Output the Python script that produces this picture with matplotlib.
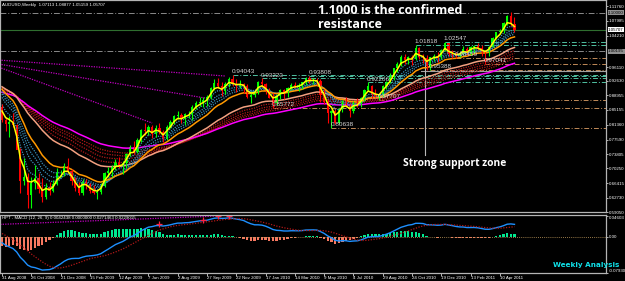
import numpy as np
import pandas as pd
import matplotlib
matplotlib.use('Agg')
import matplotlib.pyplot as plt
from matplotlib.transforms import blended_transform_factory

# weekly AUDUSD bars, first bar = week of Sunday 31 Aug 2008
OPENS = [0.859, 0.825, 0.815, 0.822, 0.812, 0.750, 0.670, 0.680, 0.635, 0.665,
         0.678, 0.650, 0.630, 0.655, 0.645, 0.663, 0.690, 0.690, 0.708, 0.695,
         0.670, 0.651, 0.640, 0.668, 0.660, 0.644, 0.640, 0.642, 0.658, 0.690,
         0.695, 0.708, 0.718, 0.710, 0.715, 0.740, 0.758, 0.745, 0.775, 0.800,
         0.799, 0.808, 0.789, 0.806, 0.795, 0.778, 0.808, 0.820, 0.835, 0.838,
         0.828, 0.840, 0.842, 0.859, 0.870, 0.872, 0.876, 0.884, 0.908, 0.920,
         0.912, 0.900, 0.919, 0.932, 0.918, 0.913, 0.918, 0.912, 0.886, 0.890,
         0.897, 0.922, 0.918, 0.900, 0.883, 0.870, 0.888, 0.902, 0.896, 0.907,
         0.916, 0.913, 0.913, 0.922, 0.934, 0.928, 0.928, 0.925, 0.889, 0.873,
         0.843, 0.850, 0.818, 0.853, 0.875, 0.863, 0.848, 0.870, 0.865, 0.883,
         0.903, 0.912, 0.893, 0.888, 0.888, 0.913, 0.924, 0.937, 0.958, 0.970,
         0.987, 0.980, 0.988, 0.982, 1.011, 0.987, 0.985, 0.963, 0.987, 0.990,
         0.988, 1.005, 1.023, 0.994, 0.993, 0.989, 0.996, 1.008, 0.997, 1.014,
         1.015, 1.009, 1.000, 0.997, 1.013, 1.036, 1.050, 1.054, 1.073, 1.091,
         1.0711]
HIGHS = [0.868, 0.833, 0.835, 0.845, 0.816, 0.753, 0.728, 0.690, 0.680, 0.710,
         0.690, 0.678, 0.665, 0.666, 0.672, 0.703, 0.698, 0.715, 0.728, 0.700,
         0.680, 0.668, 0.675, 0.676, 0.665, 0.660, 0.648, 0.665, 0.694, 0.705,
         0.712, 0.727, 0.730, 0.720, 0.742, 0.763, 0.772, 0.780, 0.804, 0.818,
         0.814, 0.813, 0.812, 0.818, 0.800, 0.812, 0.827, 0.838, 0.849, 0.843,
         0.845, 0.850, 0.864, 0.875, 0.885, 0.885, 0.890, 0.910, 0.930, 0.933,
         0.923, 0.924, 0.936, 0.9404, 0.930, 0.929, 0.921, 0.918, 0.895, 0.900,
         0.925, 0.9322, 0.920, 0.907, 0.895, 0.893, 0.906, 0.906, 0.910, 0.920,
         0.922, 0.921, 0.924, 0.935, 0.9381, 0.934, 0.933, 0.932, 0.905, 0.879,
         0.852, 0.855, 0.856, 0.878, 0.885, 0.866, 0.875, 0.882, 0.885, 0.904,
         0.9221, 0.915, 0.904, 0.893, 0.915, 0.925, 0.945, 0.960, 0.975, 0.991,
         0.995, 0.990, 0.993, 1.0182, 1.014, 0.996, 0.993, 0.988, 0.995, 1.000,
         1.007, 1.0255, 1.024, 1.005, 1.000, 1.000, 1.015, 1.014, 1.015, 1.019,
         1.024, 1.017, 1.005, 1.015, 1.038, 1.052, 1.059, 1.077, 1.094, 1.1012,
         1.0888]
LOWS = [0.821, 0.797, 0.782, 0.808, 0.752, 0.640, 0.660, 0.602, 0.600, 0.650,
        0.640, 0.617, 0.625, 0.633, 0.641, 0.660, 0.680, 0.683, 0.690, 0.659,
        0.645, 0.634, 0.634, 0.650, 0.640, 0.636, 0.625, 0.636, 0.655, 0.680,
        0.681, 0.697, 0.702, 0.689, 0.703, 0.735, 0.738, 0.742, 0.770, 0.787,
        0.787, 0.780, 0.782, 0.790, 0.770, 0.775, 0.805, 0.815, 0.829, 0.818,
        0.813, 0.832, 0.827, 0.855, 0.862, 0.860, 0.862, 0.880, 0.902, 0.907,
        0.887, 0.893, 0.910, 0.913, 0.897, 0.908, 0.896, 0.883, 0.870, 0.885,
        0.892, 0.911, 0.893, 0.881, 0.8577, 0.864, 0.880, 0.880, 0.886, 0.902,
        0.907, 0.899, 0.905, 0.915, 0.920, 0.918, 0.915, 0.873, 0.867, 0.818,
        0.8064, 0.815, 0.816, 0.846, 0.860, 0.833, 0.843, 0.860, 0.858, 0.875,
        0.900, 0.882, 0.884, 0.8771, 0.885, 0.905, 0.920, 0.928, 0.950, 0.963,
        0.970, 0.968, 0.966, 0.980, 0.983, 0.972, 0.955, 0.9539, 0.978, 0.975,
        0.983, 1.003, 0.990, 0.985, 0.9846, 0.9875, 0.994, 0.991, 0.992, 0.998,
        1.005, 0.990, 0.9704, 0.990, 1.012, 1.032, 1.045, 1.048, 1.070, 1.066,
        1.0516]
CLOSES = [0.825, 0.815, 0.822, 0.812, 0.750, 0.670, 0.680, 0.635, 0.665, 0.678,
          0.650, 0.630, 0.655, 0.645, 0.663, 0.690, 0.690, 0.708, 0.695, 0.670,
          0.651, 0.640, 0.668, 0.660, 0.644, 0.640, 0.642, 0.658, 0.690, 0.695,
          0.708, 0.718, 0.710, 0.715, 0.740, 0.758, 0.745, 0.775, 0.800, 0.799,
          0.808, 0.789, 0.806, 0.795, 0.778, 0.808, 0.820, 0.835, 0.838, 0.828,
          0.840, 0.842, 0.859, 0.870, 0.872, 0.876, 0.884, 0.908, 0.920, 0.912,
          0.900, 0.919, 0.932, 0.918, 0.913, 0.918, 0.912, 0.886, 0.890, 0.897,
          0.922, 0.918, 0.900, 0.883, 0.870, 0.888, 0.902, 0.896, 0.907, 0.916,
          0.913, 0.913, 0.922, 0.934, 0.928, 0.928, 0.925, 0.889, 0.873, 0.843,
          0.850, 0.818, 0.853, 0.875, 0.863, 0.848, 0.870, 0.865, 0.883, 0.903,
          0.912, 0.893, 0.888, 0.888, 0.913, 0.924, 0.937, 0.958, 0.970, 0.987,
          0.980, 0.988, 0.982, 1.011, 0.987, 0.985, 0.963, 0.987, 0.990, 0.988,
          1.005, 1.023, 0.994, 0.993, 0.989, 0.996, 1.008, 0.997, 1.014, 1.015,
          1.009, 1.000, 0.997, 1.013, 1.036, 1.050, 1.054, 1.073, 1.091, 1.0711,
          1.0571]
# closes Sep 2007 - Aug 2008, only used to warm up the averages
PRE_CLOSES = [0.823, 0.835, 0.855, 0.875, 0.893, 0.903, 0.905, 0.925, 0.935, 0.905,
              0.887, 0.880, 0.867, 0.865, 0.860, 0.873, 0.877, 0.878, 0.883, 0.870,
              0.888, 0.897, 0.905, 0.914, 0.930, 0.935, 0.937, 0.910, 0.912, 0.915,
              0.930, 0.935, 0.935, 0.945, 0.946, 0.955, 0.955, 0.955, 0.948, 0.950,
              0.958, 0.962, 0.978, 0.977, 0.940, 0.930, 0.888, 0.875, 0.873, 0.861]

DATE_TICKS = ['31 Aug 2008', '26 Oct 2008', '21 Dec 2008', '15 Feb 2009', '12 Apr 2009',
              '7 Jun 2009', '2 Aug 2009', '27 Sep 2009', '22 Nov 2009', '17 Jan 2010',
              '14 Mar 2010', '9 May 2010', '4 Jul 2010', '29 Aug 2010', '24 Oct 2010',
              '19 Dec 2010', '13 Feb 2011', '10 Apr 2011']
PRICE_TICKS = [1.11760, 1.07985, 1.04210, 0.96110, 0.92630, 0.88955, 0.85155, 0.81360,
               0.77590, 0.73805, 0.70250, 0.66415, 0.62730, 0.59050]

# swing points marked on the chart
SWING_TEXT = ['0.94043', '0.93223', '0.85772', '0.93808', '0.80638', '0.92206',
              '0.87707', '1.01818', '0.95388', '1.02547', '0.98459', '0.97041']
SWING_IDX = [63, 71, 74, 84, 90, 100, 103, 113, 117, 121, 124, 132]
SWING_PRICE = [0.94043, 0.93223, 0.85772, 0.93808, 0.80638, 0.92206,
               0.87707, 1.01818, 0.95388, 1.02547, 0.98459, 0.97041]
SWING_HIGH = [1, 1, 0, 1, 0, 1, 0, 1, 0, 1, 0, 0]

# magenta trend lines (start idx, start price, end idx, end price)
TREND_X0 = [-1, -1, -1]
TREND_Y0 = [0.9794, 0.9692, 0.9615]
TREND_X1 = [61, 55.5, 41]
TREND_Y1 = [0.9385, 0.8822, 0.8182]

RESISTANCE = 1.1000
PARITY = 1.0020
LAST = 1.05707
SUPPORT_BOX = 0.951
SUPPORT_IDX = 115.5
SUPPORT_TOP = 0.974
SUPPORT_BOTTOM = 0.737

CROSS_IDX = [43, 55, 59, 62]
CROSS_VAL = [0.0286, 0.037, 0.046, 0.046]

n = len(CLOSES)
idx = np.arange(n)
o = np.array(OPENS)
h = np.array(HIGHS)
l = np.array(LOWS)
c = np.array(CLOSES)

full = pd.Series(PRE_CLOSES + CLOSES)
npre = len(PRE_CLOSES)


def ema(span):
    return full.ewm(span=span, adjust=False).mean().values[npre:]


macd_full = full.ewm(span=12, adjust=False).mean() - full.ewm(span=26, adjust=False).mean()
signal_full = macd_full.rolling(9).mean()
macd = macd_full.values[npre:]
signal = signal_full.values[npre:]
hist = macd - signal

BG = 'black'
FRAME = '#b4b4b4'
XMAX = 165.0
SMALL = dict(family='Liberation Sans', fontsize=3.15)

fig = plt.figure(figsize=(6.25, 2.81), dpi=100, facecolor=BG)
ax = fig.add_axes([0, 1 - 212 / 281, 606 / 625, 212 / 281], facecolor=BG)
mx = fig.add_axes([0, 1 - 273 / 281, 606 / 625, 58 / 281], facecolor=BG)

for a in (ax, mx):
    for s in a.spines.values():
        s.set_color(FRAME)
        s.set_linewidth(0.9)
    a.set_xlim(-0.55, XMAX)

# --- main pane ---
ax.set_ylim(0.5905, 1.1330)

# trend lines
for x0, y0, x1, y1 in zip(TREND_X0, TREND_Y0, TREND_X1, TREND_Y1):
    ax.plot([x0, x1], [y0, y1], color='#c000c0', lw=0.9, ls=(0, (1, 1)))

# horizontal levels
ax.axhline(RESISTANCE, color='#8a8a8a', lw=0.7, ls=(0, (6, 2, 1, 2)))
ax.axhline(PARITY, color='#8a8a8a', lw=0.7, ls=(0, (6, 2, 1, 2)))
ax.axhline(LAST, color='#2f6e2f', lw=0.8)
for t, i, p, hi in zip(SWING_TEXT, SWING_IDX, SWING_PRICE, SWING_HIGH):
    col = '#4fc0a0' if hi else '#c08a58'
    ax.plot([i, XMAX], [p, p], color=col, lw=0.7, ls=(0, (5, 2, 1, 2)))
    ax.text(i - 0.3, p + 0.002, t, color='#d8d8d8', fontsize=4.6, family='Liberation Sans',
            ha='left', va='bottom')

# support zone marks
ax.plot([SUPPORT_IDX - 1, XMAX], [SUPPORT_BOX, SUPPORT_BOX], color='#a0a0a0', lw=0.8)
ax.plot([SUPPORT_IDX, SUPPORT_IDX], [SUPPORT_TOP, SUPPORT_BOTTOM], color='#b8b8b8', lw=0.8)

# guppy style averages
long_dotted = [35, 40, 45, 50]
short_dotted = [5, 8, 10, 12]
for sp in long_dotted:
    ax.plot(idx, ema(sp), color='#b01818', lw=0.9, ls=(0, (1, 1)))
ax.plot(idx, ema(60), color='#ff00ff', lw=1.1)
ax.plot(idx, ema(30), color='#f4a080', lw=1.1)
for sp in short_dotted:
    ax.plot(idx, ema(sp), color='#3a8fb8', lw=0.9, ls=(0, (1, 1)))
ax.plot(idx, ema(15), color='#ff9900', lw=1.1)

# candles
up = c >= o
cols = np.where(up, '#00ff00', '#ff0000')
ax.vlines(idx, l, h, colors=cols, lw=0.8)
body_lo = np.minimum(o, c)
body_h = np.maximum(np.abs(c - o), 0.0015)
ax.bar(idx, body_h, bottom=body_lo, width=0.62, color=cols, linewidth=0)
ax.plot(idx, ema(3), color='#ffff00', lw=1.1)

ax.set_xticks([])
ax.yaxis.tick_right()
ax.set_yticks(PRICE_TICKS)
ax.set_yticklabels(['%.5f' % v for v in PRICE_TICKS], **SMALL)
ax.tick_params(axis='y', colors='white', length=1.5, width=0.5, pad=0.6)

trans = blended_transform_factory(ax.transAxes, ax.transData)
box_labels = [(RESISTANCE, '1.10000', '#909090'), (LAST, '1.05707', 'white'),
              (PARITY, '1.00195', '#909090')]
for yv, txt, fc in box_labels:
    ax.text(1.0035, yv, txt, transform=trans, color='black', va='center', ha='left',
            bbox=dict(boxstyle='square,pad=0.12', fc=fc, ec='none'), **SMALL)

ax.text(0.004, 0.988, 'AUDUSD,Weekly  1.07113 1.08877 1.05159 1.05707', transform=ax.transAxes,
        color='white', va='top', ha='left', **SMALL)

ax.text(318 / 606, 1 - 4 / 212, '1.1000 is the confirmed\nresistance', transform=ax.transAxes,
        color='white', fontsize=9, fontweight='bold', family='Open Sans',
        va='top', ha='left', linespacing=1.1)
ax.text(403 / 606, 1 - 158 / 212, 'Strong support zone', transform=ax.transAxes,
        color='white', fontsize=7.4, fontweight='bold', family='Open Sans',
        va='top', ha='left')

# --- MACD pane ---
mx.set_ylim(-0.0793, 0.0475)
mx.axhline(0, color='#c8a060', lw=0.6, ls=(0, (1, 1.5)))
hcol = np.where(hist >= 0, '#00e890', '#f87860')
mx.bar(idx, hist, width=0.62, color=hcol, linewidth=0)
mx.plot(idx, macd, color='#1e90ff', lw=1.0)
mx.plot(idx, signal, color='#b01818', lw=0.9, ls=(0, (1, 1.2)))
mx.plot([-0.5, 58], [0.027, 0.045], color='#c000c0', lw=0.9, ls=(0, (1, 1)))
mx.plot(CROSS_IDX, CROSS_VAL, ls='none', marker='+', color='#ff2040', ms=4, mew=0.9)

mx.yaxis.tick_right()
mx.set_yticks([0.04603, 0.0, -0.07930])
mx.set_yticklabels(['0.04603', '0.00', '-0.07930'], **SMALL)
mx.tick_params(axis='y', colors='white', length=1.5, width=0.5, pad=0.6)
mx.get_yticklabels()[0].set_va('top')
mx.get_yticklabels()[2].set_va('bottom')

mx.set_xticks(np.arange(0, 8 * len(DATE_TICKS), 8))
mx.set_xticklabels(DATE_TICKS, **SMALL)
mx.tick_params(axis='x', colors='white', length=2, width=0.5, pad=0.5)
for lab in mx.get_xticklabels():
    lab.set_ha('left')

mx.text(0.004, 0.975, 'HPT - MACD (12, 26, 9) 0.0042438 0.0000000 0.0271463 0.0229015',
        transform=mx.transAxes, color='white', va='top', ha='left', **SMALL)
mx.text(553 / 606, 0.14, 'Weekly Analysis', transform=mx.transAxes, color='#10e0e8',
        fontsize=5.2, fontweight='bold', va='center', ha='left')

fig.savefig('out.png', dpi=100, facecolor=BG)
